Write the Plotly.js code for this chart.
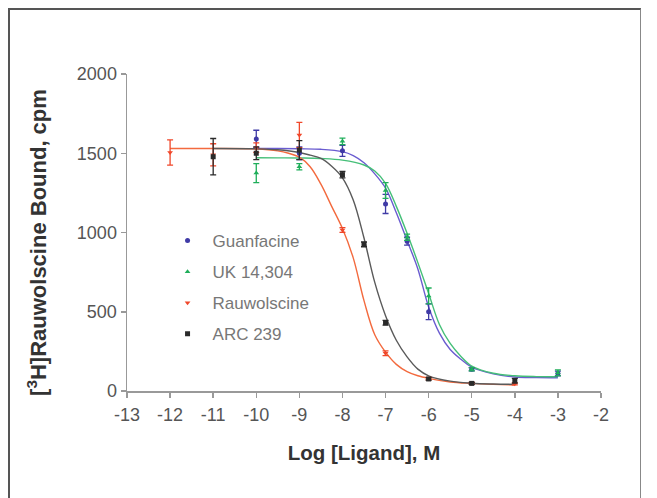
<!DOCTYPE html>
<html>
<head>
<meta charset="utf-8">
<script src="https://cdn.plot.ly/plotly-3.0.1.min.js"></script>
<style>
  html, body { margin: 0; padding: 0; background: #fff; }
  #frame { position: absolute; left: 8px; top: 8px; width: 633px; height: 500px;
           border-left: 2px solid #555; border-top: 2px solid #555; border-right: 1px solid #888; box-sizing: border-box; pointer-events: none; z-index: 5; }
  #chart { width: 657px; height: 498px; }
</style>
</head>
<body>
<div id="frame"></div>
<div id="chart"></div>
<script>
// ---- Data ----
const seriesNames = ["Guanfacine", "UK 14,304", "Rauwolscine", "ARC 239"];

// Measured points (log M, cpm, SEM)
const guanX = [-10, -9, -8, -7, -6.5, -6, -5, -3];
const guanY = [1590, 1500, 1515, 1180, 945, 500, 137, 110];
const guanE = [55, 40, 35, 60, 25, 50, 10, 15];

const ukX = [-10, -9, -8, -7, -6.5, -6, -5, -3];
const ukY = [1375, 1415, 1575, 1265, 970, 600, 137, 115];
const ukE = [60, 20, 20, 50, 20, 50, 10, 18];

const rauX = [-12, -11, -10, -9, -8, -7, -6, -5, -4];
const rauY = [1505, 1490, 1535, 1615, 1016, 238, 78, 49, 45];
const rauE = [80, 70, 30, 80, 15, 15, 8, 6, 6];

const arcX = [-11, -10, -9, -8, -7.5, -7, -6, -5, -4];
const arcY = [1478, 1500, 1520, 1365, 925, 431, 76, 48, 65];
const arcE = [115, 40, 60, 20, 15, 15, 8, 6, 15];

// Fitted curves
const guanCurveX = [-10, -9.5, -9, -8.5, -8, -7.75, -7.5, -7.25, -7, -6.75, -6.5, -6.25, -6, -5.75, -5.5, -5.25, -5, -4.5, -4, -3.5, -3];
const guanCurveY = [1530, 1530, 1528, 1525, 1510, 1485, 1440, 1370, 1280, 1125, 950, 770, 530, 365, 262, 200, 150, 108, 88, 85, 84];

const ukCurveX = [-10, -9.5, -9, -8.5, -8, -7.5, -7.25, -7, -6.75, -6.5, -6.25, -6, -5.75, -5.5, -5.25, -5, -4.5, -4, -3.5, -3];
const ukCurveY = [1472, 1471, 1470, 1467, 1457, 1426, 1388, 1310, 1165, 995, 810, 615, 420, 300, 218, 157, 112, 96, 91, 90];

const rauCurveX = [-12, -11, -10, -9.5, -9.25, -9, -8.75, -8.5, -8.25, -8, -7.75, -7.5, -7.25, -7, -6.75, -6.5, -6.25, -6, -5.5, -5, -4.5, -4];
const rauCurveY = [1530, 1530, 1527, 1515, 1500, 1475, 1415, 1305, 1165, 1025, 840, 570, 355, 245, 168, 122, 96, 80, 57, 48, 42, 38];

const arcCurveX = [-11, -10, -9.5, -9, -8.75, -8.5, -8.25, -8, -7.75, -7.5, -7.25, -7, -6.75, -6.5, -6.25, -6, -5.5, -5, -4.5, -4];
const arcCurveY = [1530, 1528, 1522, 1505, 1488, 1467, 1418, 1345, 1205, 965, 685, 475, 320, 215, 138, 96, 62, 49, 44, 42];

const xTickVals = [-13, -12, -11, -10, -9, -8, -7, -6, -5, -4, -3, -2];
const yTickVals = [0, 500, 1000, 1500, 2000];

const xTitle = "Log [Ligand], M";
const yTitle = "[<sup>3</sup>H]Rauwolscine Bound, cpm";

// ---- Styles ----
const markColors = ["#3f3aa6", "#1fae5a", "#f0472a", "#2a2a2a"];
const lineColors = ["#6a5cd0", "#45bf78", "#f36a3e", "#5a5a5a"];
const symbols = ["circle", "triangle-up", "triangle-down", "square"];

const pts = [[guanX, guanY, guanE], [ukX, ukY, ukE], [rauX, rauY, rauE], [arcX, arcY, arcE]];
const crv = [[guanCurveX, guanCurveY], [ukCurveX, ukCurveY], [rauCurveX, rauCurveY], [arcCurveX, arcCurveY]];

const traces = [];
for (let i = 0; i < 4; i++) {
  traces.push({
    x: crv[i][0], y: crv[i][1], type: "scatter", mode: "lines",
    line: { color: lineColors[i], width: 1.4, shape: "spline", smoothing: 1 },
    showlegend: false, hoverinfo: "skip"
  });
}
for (let i = 0; i < 4; i++) {
  traces.push({
    x: pts[i][0], y: pts[i][1], type: "scatter", mode: "markers",
    name: seriesNames[i], legendgroup: "g" + i,
    marker: { color: markColors[i], symbol: symbols[i], size: 5 },
    error_y: { type: "data", array: pts[i][2], visible: true, color: markColors[i], thickness: 1.3, width: 3 }
  });
}

const fam = "Liberation Sans, Arial, Helvetica, sans-serif";
const axisFont = { family: fam, size: 18, color: "#555" };
const layout = {
  width: 657, height: 498,
  margin: { l: 127, r: 56, t: 74, b: 107 },
  paper_bgcolor: "#fff", plot_bgcolor: "#fff",
  showlegend: true,
  legend: {
    x: 0.075, y: 0.53, xanchor: "left", yanchor: "top",
    traceorder: "grouped", tracegroupgap: 6, itemwidth: 40,
    font: { family: fam, size: 17, color: "#777" },
    bgcolor: "rgba(0,0,0,0)"
  },
  xaxis: {
    range: [-13, -2], tickvals: xTickVals, ticktext: xTickVals.map(String),
    showgrid: false, zeroline: false, showline: true, linecolor: "#999", linewidth: 1.5,
    ticks: "outside", ticklen: 5, tickcolor: "#999", tickwidth: 1.5,
    tickfont: axisFont, ticklabelstandoff: 2,
    title: { text: xTitle, font: { family: fam, size: 20.5, color: "#333", weight: "bold" }, standoff: 21 }
  },
  yaxis: {
    range: [0, 2000], tickvals: yTickVals, ticktext: yTickVals.map(String),
    showgrid: false, zeroline: false, showline: true, linecolor: "#999", linewidth: 1.5,
    ticks: "outside", ticklen: 5, tickcolor: "#999", tickwidth: 1.5,
    tickfont: axisFont
  },
  annotations: [{
    text: yTitle, xref: "paper", yref: "paper", x: -0.19, y: 0.47,
    xanchor: "center", yanchor: "middle", textangle: -90, showarrow: false,
    font: { family: fam, size: 22, color: "#333", weight: "bold" }
  }]
};

Plotly.newPlot("chart", traces, layout, { staticPlot: true, displayModeBar: false });
</script>
</body>
</html>
